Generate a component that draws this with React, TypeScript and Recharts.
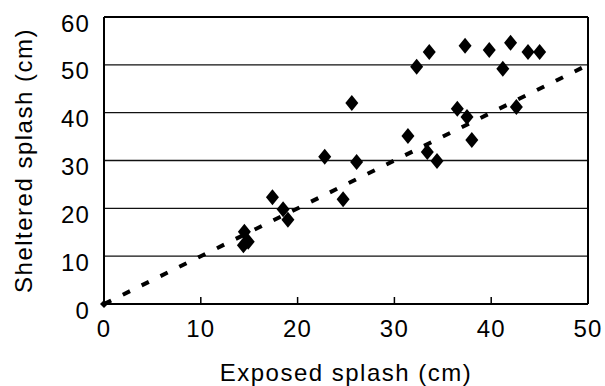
import { ScatterChart, Scatter, XAxis, YAxis, CartesianGrid, ReferenceLine } from 'recharts'

const exposed = [14.5, 14.4, 14.9, 17.4, 18.5, 19.0, 22.8, 24.7, 25.6, 26.1, 31.4, 32.3, 33.4, 33.6, 34.4, 36.5, 37.3, 37.5, 38.0, 39.8, 41.2, 42.0, 42.6, 43.8, 45.0]
const sheltered = [15.1, 12.3, 13.0, 22.3, 19.8, 17.6, 30.8, 21.9, 42.0, 29.7, 35.1, 49.6, 31.8, 52.7, 29.9, 40.8, 54.0, 39.1, 34.3, 53.1, 49.2, 54.6, 41.2, 52.7, 52.7]

// 1:1 line
const fitX = [0, 50]
const fitY = [0, 50]

const xTicks = [0, 10, 20, 30, 40, 50]
const yTicks = [0, 10, 20, 30, 40, 50, 60]

const points = exposed.map((x, i) => ({ x, y: sheltered[i] }))
const fit = fitX.map((x, i) => ({ x, y: fitY[i] }))

const FONT = '"Liberation Sans", Arial, sans-serif'
const X_TICK_GAP = 16

const Diamond = (p: any) => {
  const { cx, cy } = p
  if (cx == null || cy == null) return null
  return <polygon points={`${cx},${cy - 8} ${cx + 6.5},${cy} ${cx},${cy + 8} ${cx - 6.5},${cy}`} fill="#000" />
}

const OriginMark = (p: any) => {
  const { cx, cy, payload } = p
  if (!payload || payload.x !== 0) return null
  return <polygon points={`${cx},${cy - 4} ${cx + 4},${cy} ${cx},${cy + 4} ${cx - 4},${cy}`} fill="#000" />
}

const YTick = ({ x, y, payload }: any) => (
  <text x={x} y={y + 6} dy="0.36em" textAnchor="end" fontSize={24} fill="#000"
    style={{ fontFamily: FONT, letterSpacing: 1.2 }}>
    {payload.value}
  </text>
)

// inward tick mark + label
const XTick = ({ x, y, payload }: any) => (
  <g>
    <line x1={x} x2={x} y1={y - X_TICK_GAP} y2={y - X_TICK_GAP - 7} stroke="#000" strokeWidth={1.5} />
    <text x={x} y={y} dy="0.71em" textAnchor="middle" fontSize={24} fill="#000"
      style={{ fontFamily: FONT, letterSpacing: 1.2 }}>
      {payload.value}
    </text>
  </g>
)

export default function App() {
  return (
    <div style={{ position: 'absolute', left: 0, top: 0, width: 605, height: 386, background: '#fff', fontFamily: FONT }}>
      <ScatterChart width={605} height={386} margin={{ top: 17, right: 17, bottom: 0, left: 0 }}>
        <CartesianGrid vertical={false} stroke="#111" strokeWidth={1.3} />
        <XAxis
          type="number"
          dataKey="x"
          domain={[0, 50]}
          ticks={xTicks}
          height={82}
          axisLine={{ stroke: '#000', strokeWidth: 2 }}
          tickLine={false}
          tickSize={0}
          tickMargin={X_TICK_GAP}
          tick={<XTick />}
          label={{
            value: 'Exposed splash (cm)', position: 'insideBottom', offset: 5,
            style: { fontSize: 24, fill: '#000', fontFamily: FONT, letterSpacing: 1.5 },
          }}
        />
        <YAxis
          type="number"
          dataKey="y"
          domain={[0, 60]}
          ticks={yTicks}
          width={104}
          axisLine={{ stroke: '#000', strokeWidth: 2 }}
          tickLine={false}
          tickMargin={8}
          tick={<YTick />}
          label={{
            value: 'Sheltered splash (cm)', angle: -90, position: 'insideLeft', offset: 23,
            style: { fontSize: 24, fill: '#000', fontFamily: FONT, letterSpacing: 1.5, textAnchor: 'middle' },
          }}
        />
        <ReferenceLine x={50} stroke="#000" strokeWidth={2} />
        <ReferenceLine y={60} stroke="#000" strokeWidth={2} />
        <Scatter
          data={fit}
          line={{ stroke: '#000', strokeWidth: 4, strokeDasharray: '8 13' }}
          shape={<OriginMark />}
          isAnimationActive={false}
        />
        <Scatter data={points} shape={<Diamond />} isAnimationActive={false} />
      </ScatterChart>
    </div>
  )
}
